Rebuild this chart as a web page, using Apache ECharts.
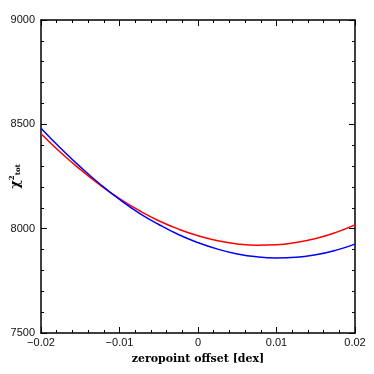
<!DOCTYPE html>
<html>
<head>
<meta charset="utf-8">
<script src="https://cdn.jsdelivr.net/npm/echarts@6/dist/echarts.min.js"></script>
<style>
html, body { margin: 0; padding: 0; background: #fff; }
#chart { width: 374px; height: 374px; }
</style>
</head>
<body>
<div id="chart"></div>
<script>
// zeropoint offset [dex]
var xVals = [-0.02, -0.0175, -0.015, -0.0125, -0.01, -0.0075, -0.005, -0.0025, 0,
	0.0025, 0.005, 0.0075, 0.01, 0.0125, 0.015, 0.0175, 0.02];
// chi^2 tot
var redVals = [8455, 8365, 8284, 8210, 8144, 8087, 8038, 7998, 7966,
	7942, 7927, 7921, 7923, 7934, 7953, 7981, 8018];
var blueVals = [8481, 8385, 8296, 8214, 8140, 8075, 8020, 7972, 7933,
	7902, 7879, 7865, 7860, 7863, 7875, 7896, 7926];

function pairs(ys) {
	var out = [];
	for (var i = 0; i < xVals.length; i++) {
		out.push([xVals[i], ys[i]]);
	}
	return out;
}

function fmtX(v) {
	var s = (Math.round(v * 100) / 100).toString();
	if (s === '0' || s === '-0') return '0';
	return s.replace('-', '\u2212');
}

var axisLineStyle = { color: '#000', width: 1.5 };
var tickStyle = { color: '#000', width: 1 };
var labelFont = { fontFamily: 'Liberation Sans', fontSize: 11, color: '#111' };

var myChart = echarts.init(document.getElementById('chart'));
var option = {
	animation: false,
	grid: { left: 41, right: 19, top: 20, bottom: 41, outerBoundsMode: 'none', containLabel: false },
	xAxis: [{
		type: 'value',
		min: -0.02, max: 0.02, interval: 0.01,
		name: 'zeropoint offset [dex]',
		nameLocation: 'middle',
		nameGap: 21,
		nameMoveOverlap: false,
		nameTextStyle: { fontFamily: 'DejaVu Serif', fontWeight: 'bold', fontSize: 11, color: '#000' },
		axisLine: { show: true, onZero: false, lineStyle: axisLineStyle },
		axisTick: { show: true, inside: true, length: 6, lineStyle: tickStyle },
		minorTick: { show: true, splitNumber: 5, length: 3, lineStyle: tickStyle },
		splitLine: { show: false },
		axisLabel: {
			fontFamily: labelFont.fontFamily, fontSize: labelFont.fontSize, color: labelFont.color,
			margin: 4, formatter: fmtX
		}
	}, {
		type: 'value', position: 'top',
		min: -0.02, max: 0.02, interval: 0.01,
		axisLine: { show: true, onZero: false, lineStyle: axisLineStyle },
		axisTick: { show: true, inside: true, length: 6, lineStyle: tickStyle },
		minorTick: { show: true, splitNumber: 5, length: 3, lineStyle: tickStyle },
		splitLine: { show: false },
		axisLabel: { show: false }
	}],
	yAxis: [{
		type: 'value',
		min: 7500, max: 9000, interval: 500,
		name: '{c|\u03c7}{s|2}{t|tot}',
		nameLocation: 'middle',
		nameGap: 19,
		nameRotate: 90,
		nameMoveOverlap: false,
		nameTextStyle: {
			rich: {
				c: { fontFamily: 'DejaVu Serif', fontWeight: 'bold', fontSize: 13, color: '#000' },
				s: { fontFamily: 'DejaVu Serif', fontWeight: 'bold', fontSize: 7, color: '#000', verticalAlign: 'top', padding: [0, 0, 6, 0] },
				t: { fontFamily: 'DejaVu Serif', fontWeight: 'bold', fontSize: 7, color: '#000', verticalAlign: 'bottom', padding: [4, 0, 0, 0] }
			}
		},
		axisLine: { show: true, onZero: false, lineStyle: axisLineStyle },
		axisTick: { show: true, inside: true, length: 6, lineStyle: tickStyle },
		minorTick: { show: true, splitNumber: 5, length: 3, lineStyle: tickStyle },
		splitLine: { show: false },
		axisLabel: {
			fontFamily: labelFont.fontFamily, fontSize: labelFont.fontSize, color: labelFont.color,
			margin: 6,
			formatter: function(v) { return String(v); }
		}
	}, {
		type: 'value', position: 'right',
		min: 7500, max: 9000, interval: 500,
		axisLine: { show: true, onZero: false, lineStyle: axisLineStyle },
		axisTick: { show: true, inside: true, length: 6, lineStyle: tickStyle },
		minorTick: { show: true, splitNumber: 5, length: 3, lineStyle: tickStyle },
		splitLine: { show: false },
		axisLabel: { show: false }
	}],
	series: [{
		name: 'red',
		type: 'line',
		smooth: true,
		showSymbol: false,
		data: pairs(redVals),
		lineStyle: { color: '#ff0000', width: 1.5 },
		itemStyle: { color: '#ff0000' }
	}, {
		name: 'blue',
		type: 'line',
		smooth: true,
		showSymbol: false,
		data: pairs(blueVals),
		lineStyle: { color: '#0000ff', width: 1.5 },
		itemStyle: { color: '#0000ff' }
	}]
};
myChart.setOption(option);
</script>
</body>
</html>
